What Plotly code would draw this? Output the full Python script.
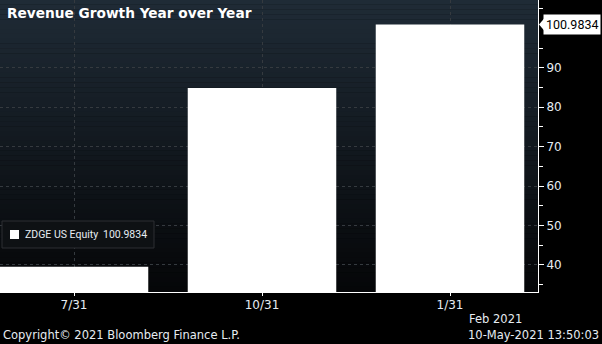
import plotly.graph_objects as go

categories = ["7/31", "10/31", "1/31"]
values = [39.5, 84.9, 100.9834]
series_name = "ZDGE US Equity"
y_ticks = [40, 50, 60, 70, 80, 90]
y_minor = [35, 45, 55, 65, 75, 85, 95, 105]
title_text = "Revenue Growth Year over Year"
copyright_text = "Copyright\u00a9 2021 Bloomberg Finance L.P."
period_text = "Feb 2021"
stamp_text = "10-May-2021 13:50:03"

W, H = 602, 344
M_L, M_R, M_T, M_B = 0, 64, 0, 52
PW = W - M_L - M_R
PH = H - M_T - M_B

FONT = "DejaVu Sans"
LFONT = "Roboto"
TXT = "#e6ecf2"
GRID = "#353a3f"

xs = list(range(len(categories)))
last = values[-1]

fig = go.Figure()
fig.add_trace(go.Bar(
    x=xs, y=values, width=0.79,
    marker=dict(color="#ffffff", line=dict(width=0)),
    name=series_name, showlegend=False,
))

# gradient background strips
shapes = []
N = 60
top = (31, 43, 54)
bot = (5, 6, 8)
for i in range(N):
    t = i / (N - 1)
    c = tuple(round(top[k] + (bot[k] - top[k]) * t) for k in range(3))
    shapes.append(dict(
        type="rect", xref="paper", yref="paper",
        x0=0, x1=1, y0=1 - (i + 1) / N, y1=1 - i / N + 0.001,
        fillcolor="rgb(%d,%d,%d)" % c, line=dict(width=0), layer="below",
    ))

# legend box (manual)
shapes.append(dict(type="rect", xref="paper", yref="paper",
                   x0=2 / PW, x1=154 / PW, y0=1 - 248 / PH, y1=1 - 221 / PH,
                   fillcolor="#0e1114", line=dict(color="#2c2f33", width=1),
                   layer="above"))
shapes.append(dict(type="rect", xref="paper", yref="paper",
                   x0=10 / PW, x1=19 / PW, y0=1 - 239 / PH, y1=1 - 230 / PH,
                   fillcolor="#ffffff", line=dict(width=0), layer="above"))

# arrow tip of the last-value label
shapes.append(dict(type="path", xref="paper", yref="y",
                   xsizemode="pixel", ysizemode="pixel",
                   xanchor=1, yanchor=last,
                   path="M1,0 L7,7 L7,-7 Z",
                   fillcolor="#ffffff", line=dict(width=0), layer="above"))

fig.update_layout(shapes=shapes)

annotations = [
    dict(text="<b>%s</b>" % title_text, xref="paper", yref="paper",
         x=0, y=1, xanchor="left", yanchor="top", xshift=5, yshift=-3,
         showarrow=False, font=dict(family=FONT, size=13.7, color="#ffffff")),
    dict(text=series_name, xref="paper", yref="paper",
         x=23 / PW, y=1 - 234.5 / PH, xanchor="left", yanchor="middle",
         showarrow=False, font=dict(family=LFONT, size=10.5, color=TXT)),
    dict(text=f"{last:.4f}", xref="paper", yref="paper",
         x=149 / PW, y=1 - 234.5 / PH, xanchor="right", yanchor="middle",
         showarrow=False, font=dict(family=LFONT, size=10.5, color=TXT)),
    dict(text=f"{last:.4f}", xref="paper", yref="y", x=1, y=last,
         xanchor="left", yanchor="middle", xshift=5,
         showarrow=False, bgcolor="#ffffff", borderpad=2,
         font=dict(family=LFONT, size=12.5, color="#000000")),
    dict(text=copyright_text, xref="paper", yref="paper", x=0, y=0,
         xanchor="left", yanchor="top", xshift=1, yshift=-34,
         showarrow=False, font=dict(family=FONT, size=11.5, color=TXT)),
    dict(text=period_text, xref="paper", yref="paper", x=467 / PW, y=0,
         xanchor="left", yanchor="top", yshift=-18,
         showarrow=False, font=dict(family=FONT, size=11.5, color=TXT)),
    dict(text=stamp_text, xref="paper", yref="paper", x=(W - 1) / PW, y=0,
         xanchor="right", yanchor="top", yshift=-34,
         showarrow=False, font=dict(family=FONT, size=11.5, color=TXT)),
]
fig.update_layout(annotations=annotations)

fig.update_layout(
    width=W, height=H,
    margin=dict(l=M_L, r=M_R, t=M_T, b=M_B, pad=0),
    paper_bgcolor="#000000", plot_bgcolor="rgba(0,0,0,0)",
    showlegend=False,
    font=dict(family=FONT, size=11.5, color=TXT),
    xaxis=dict(
        range=[-74 / 188, (PW - 74) / 188],
        tickvals=xs, ticktext=categories,
        showgrid=True, gridcolor=GRID, griddash="3px,3px", gridwidth=1,
        showline=True, linecolor="#ffffff", linewidth=1,
        ticks="outside", ticklen=3, tickcolor="#ffffff",
        ticklabelstandoff=-1,
        tickfont=dict(family=FONT, size=12, color=TXT),
        zeroline=False, fixedrange=True,
    ),
    yaxis=dict(
        side="right", range=[33.1, 107.2],
        tickvals=y_ticks, ticktext=[str(v) for v in y_ticks],
        showgrid=True, gridcolor=GRID, griddash="3px,3px", gridwidth=1,
        showline=True, linecolor="#ffffff", linewidth=1,
        ticks="outside", ticklen=5, tickcolor="#ffffff",
        minor=dict(tickvals=y_minor, ticks="outside",
                   ticklen=4, tickcolor="#ffffff", showgrid=False),
        tickfont=dict(family=FONT, size=12, color=TXT),
        zeroline=False, fixedrange=True,
    ),
)

fig.write_html("out.html")
